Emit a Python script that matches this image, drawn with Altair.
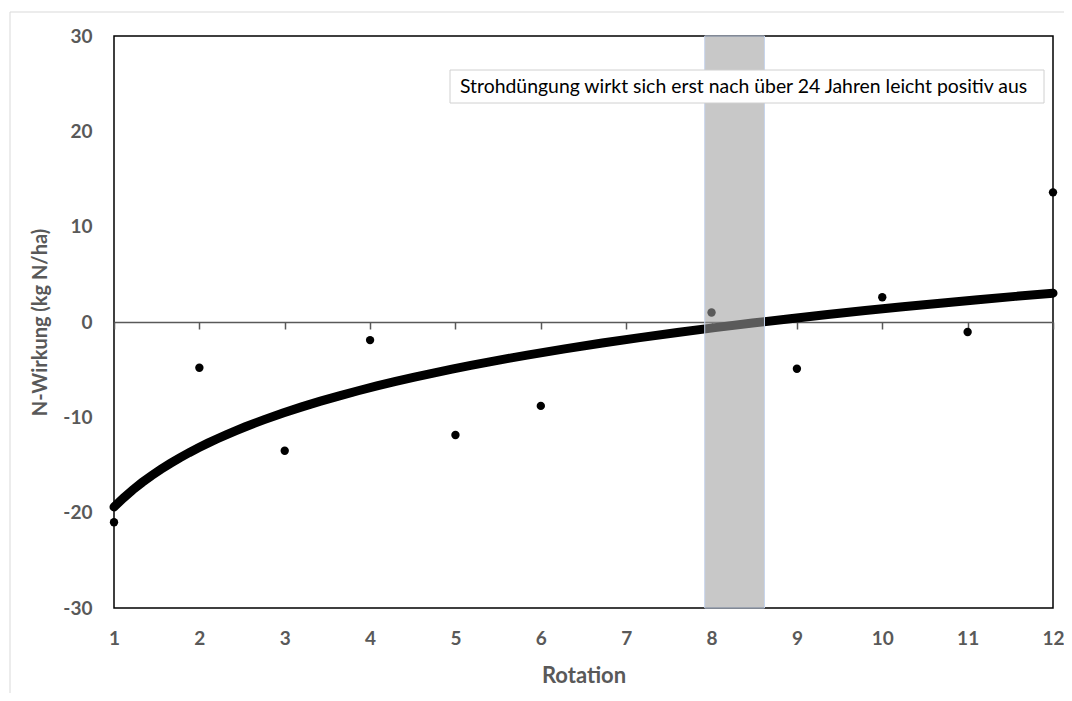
import altair as alt
import pandas as pd

# Data
rotation = [1, 2, 3, 4, 5, 6, 8, 9, 10, 11, 12]
n_wirkung = [-21.0, -4.8, -13.5, -1.9, -11.85, -8.8, 1.0, -4.9, 2.6, -1.05, 13.6]

band_start = [7.92]
band_end = [8.62]

note_text = ["Strohdüngung wirkt sich erst nach über 24 Jahren leicht positiv aus"]

x_ticks = list(range(1, 13))
y_ticks = [-30, -20, -10, 0, 10, 20, 30]

W, H = 939, 572
GREY = "#595959"
FONT = "Lato"

df = pd.DataFrame({"Rotation": rotation, "N": n_wirkung})
band_df = pd.DataFrame({"x0": band_start, "x1": band_end})
note_df = pd.DataFrame({"t": note_text})

xscale = alt.Scale(domain=[1, 12], nice=False, zero=False)
yscale = alt.Scale(domain=[-30, 30], nice=False)

xaxis = alt.Axis(
    values=x_ticks, title="Rotation", offset=-H / 2, grid=False,
    domainColor=GREY, domainWidth=1.5, tickColor=GREY, tickSize=7, tickWidth=1.5,
    labelPadding=300, labelFlush=False, labelOverlap=False,
    labelFont=FONT, labelFontSize=19, labelFontWeight="bold", labelColor=GREY,
    titleFont=FONT, titleFontSize=22, titleFontWeight="bold", titleColor=GREY,
    titleY=353, titleBaseline="middle", format="d",
)
yaxis = alt.Axis(
    values=y_ticks, title="N-Wirkung (kg N/ha)", grid=False, domain=False, ticks=False,
    labelPadding=22, labelFont=FONT, labelFontSize=19, labelFontWeight="bold", labelColor=GREY,
    labelExpr="'' + datum.value",
    titleFont=FONT, titleFontSize=20, titleFontWeight="bold", titleColor=GREY,
    titlePadding=12,
)

base = alt.Chart(df)

trend = base.transform_regression(
    "Rotation", "N", method="log", extent=[1, 12]
).mark_line(color="black", strokeWidth=9, strokeCap="round").encode(
    x=alt.X("Rotation:Q", scale=xscale, axis=xaxis),
    y=alt.Y("N:Q", scale=yscale, axis=yaxis),
)

points = base.mark_point(filled=True, color="black", size=70, opacity=1).encode(
    x=alt.X("Rotation:Q", scale=xscale),
    y=alt.Y("N:Q", scale=yscale),
)

band = alt.Chart(band_df).mark_rect(
    fill="#9e9e9e", fillOpacity=0.57, stroke="#c6d4ec", strokeWidth=1
).encode(
    x=alt.X("x0:Q", scale=xscale),
    x2="x1:Q",
    y=alt.value(0),
    y2=alt.value(H),
)

box = alt.Chart(note_df).mark_rect(
    fill="white", stroke="#d0d0d0", strokeWidth=1
).encode(
    x=alt.value(336), x2=alt.value(930), y=alt.value(34), y2=alt.value(67)
)

text = alt.Chart(note_df).mark_text(
    align="left", baseline="middle", font=FONT, fontSize=19.4, color="black"
).encode(
    x=alt.value(346), y=alt.value(50.5), text="t:N"
)

frame_left = alt.Chart(note_df).mark_rule(color="#d9d9d9", strokeWidth=1).encode(
    x=alt.value(-104), y=alt.value(-24), y2=alt.value(670)
)
frame_top = alt.Chart(note_df).mark_rule(color="#d9d9d9", strokeWidth=1).encode(
    x=alt.value(-104), x2=alt.value(955), y=alt.value(-24)
)

chart = alt.layer(
    frame_left, frame_top, trend, points, band, box, text
).properties(
    width=W, height=H,
    autosize=alt.AutoSizeParams(type="none"),
    padding={"left": 106, "top": 28, "right": 11, "bottom": 85},
).configure_view(
    stroke="black", strokeWidth=1.5
)

chart.save("out.html", embed_options={"renderer": "svg", "actions": False})
